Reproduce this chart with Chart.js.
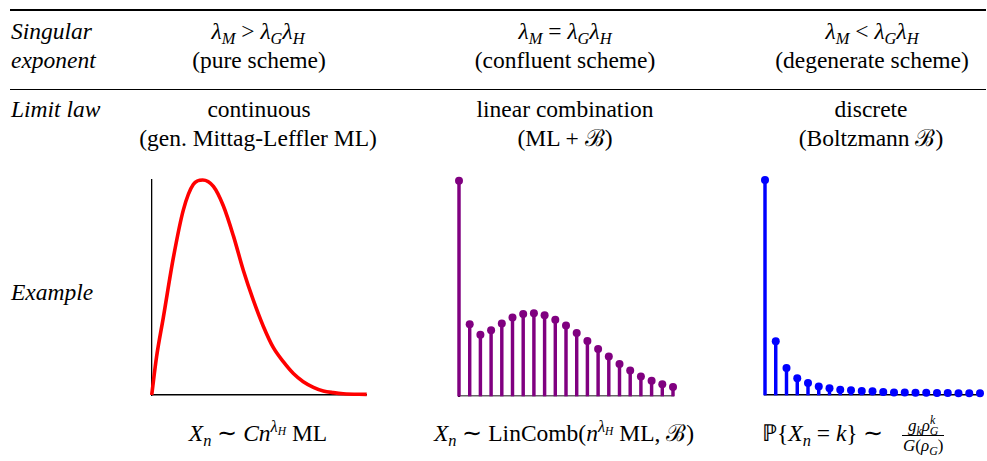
<!DOCTYPE html>
<html lang="en">
<head>
    <meta charset="UTF-8">
    <title>Limit laws of schemes</title>
    <script src="https://cdn.jsdelivr.net/npm/chart.js"></script>
    <style>
        body{margin:0;font-size:23.5px;}
        .t{position:absolute;line-height:1;white-space:nowrap;font-family:'Liberation Serif';}
        .c{width:300px;text-align:center;}
        .rule{position:absolute;left:10px;width:976px;background:#000;}
        sub,sup{font-size:0.7em;line-height:0;position:relative;vertical-align:baseline;}
        sub{top:0.3em;}
        sup{top:-0.55em;}
        .frac{text-align:center;font-size:17px;}
        .frac div{line-height:19px;padding:0 1px;}
        .frac .num{border-bottom:1px solid #000;}
        canvas{position:absolute;}
    </style>
</head>
<body>
    <div class="rule" style="top:9px;height:2px"></div>
    <div class="rule" style="top:89px;height:1.4px"></div>

    <div class="t" style="left:11px;top:20px;font-family:'Liberation Serif'"><i>Singular</i></div>
    <div class="t" style="left:11px;top:49px;font-family:'Liberation Serif'"><i>exponent</i></div>
    <div class="t c" style="left:108px;top:20px;font-family:'Liberation Serif'"><i>λ</i><sub><i>M</i></sub> &gt; <i>λ</i><sub><i>G</i></sub><i>λ</i><sub><i>H</i></sub></div>
    <div class="t c" style="left:109px;top:49px;font-family:'Liberation Serif'">(pure scheme)</div>
    <div class="t c" style="left:415px;top:20px;font-family:'Liberation Serif'"><i>λ</i><sub><i>M</i></sub> = <i>λ</i><sub><i>G</i></sub><i>λ</i><sub><i>H</i></sub></div>
    <div class="t c" style="left:415px;top:49px;font-family:'Liberation Serif'">(confluent scheme)</div>
    <div class="t c" style="left:722px;top:20px;font-family:'Liberation Serif'"><i>λ</i><sub><i>M</i></sub> &lt; <i>λ</i><sub><i>G</i></sub><i>λ</i><sub><i>H</i></sub></div>
    <div class="t c" style="left:722px;top:49px;font-family:'Liberation Serif'">(degenerate scheme)</div>

    <div class="t" style="left:11px;top:98px;font-family:'Liberation Serif'"><i>Limit law</i></div>
    <div class="t c" style="left:109px;top:98px;font-family:'Liberation Serif'">continuous</div>
    <div class="t c" style="left:108px;top:127px;font-family:'Liberation Serif'">(gen. Mittag-Leffler ML)</div>
    <div class="t c" style="left:415px;top:98px;font-family:'Liberation Serif'">linear combination</div>
    <div class="t c" style="left:415px;top:127px;font-family:'Liberation Serif'">(ML + ℬ)</div>
    <div class="t c" style="left:721px;top:98px;font-family:'Liberation Serif'">discrete</div>
    <div class="t c" style="left:721px;top:127px;font-family:'Liberation Serif'">(Boltzmann ℬ)</div>

    <div class="t" style="left:11px;top:281px;font-family:'Liberation Serif'"><i>Example</i></div>

    <div class="t c" style="left:108px;top:422px;font-family:'Liberation Serif'"><i>X</i><sub><i>n</i></sub> ∼ <i>Cn</i><sup><i>λ</i><sub><i>H</i></sub></sup> ML</div>
    <div class="t c" style="left:414px;top:422px;font-family:'Liberation Serif'"><i>X</i><sub><i>n</i></sub> ∼ LinComb(<i>n</i><sup><i>λ</i><sub><i>H</i></sub></sup> ML, ℬ)</div>
    <div class="t" style="left:762px;top:422px;font-family:'Liberation Serif'">ℙ{<i>X</i><sub><i>n</i></sub> = <i>k</i>} ∼</div>
    <div class="t frac" style="left:902px;top:416px;font-family:'Liberation Serif'">
        <div class="num"><i>g</i><sub><i>k</i></sub><i>ρ</i><sup><i>k</i></sup><sub style="margin-left:-0.45em"><i>G</i></sub></div>
        <div><i>G</i>(<i>ρ</i><sub><i>G</i></sub>)</div>
    </div>

    <canvas id="contChart" style="left:140px;top:170px" width="240" height="235"></canvas>
    <canvas id="confChart" style="left:446px;top:170px" width="240" height="236"></canvas>
    <canvas id="discChart" style="left:752px;top:170px" width="235" height="235"></canvas>

    <script>
        // continuous density (gen. Mittag-Leffler)
        const contX = [0, 2.3, 5.4, 10.1, 14.7, 19.4, 23.7, 28.7, 33.3, 38, 42.6, 47.3, 51.9, 56.6, 61.2, 65.9, 70.5, 75.2, 79.8, 84.5, 89.1, 100];
        const contY = [0, 18, 36, 64, 86, 98, 100, 97, 88, 74, 58, 44, 32, 22, 15.5, 10, 6.2, 3.6, 1.9, 1.1, 0.6, 0.3];

        // confluent scheme: ML + Boltzmann, purple stems
        const confK = [0, 1, 2, 3, 4, 5, 6, 7, 8, 9, 10, 11, 12, 13, 14, 15, 16, 17, 18, 19, 20];
        const confP = [100, 33.3, 28.5, 30.5, 33.7, 36.5, 38.1, 38.4, 37.5, 35.4, 32.7, 29.3, 25.5, 21.8, 18.3, 14.9, 11.8, 9.1, 7.1, 5.4, 4.2];

        // degenerate scheme: Boltzmann, blue stems
        const discK = [0, 1, 2, 3, 4, 5, 6, 7, 8, 9, 10, 11, 12, 13, 14, 15, 16, 17, 18, 19, 20];
        const discP = [100, 25, 12.6, 7.8, 5.6, 4.0, 3.1, 2.5, 2.2, 1.9, 1.7, 1.4, 1.2, 1.2, 1.1, 1.1, 0.9, 0.9, 0.8, 0.8, 0.8];

        function axes(xmin, xmax, xColor, yColor, yWidth){
            return {
                x:{type:'linear',min:xmin,max:xmax,offset:false,
                   ticks:{display:false},grid:{display:false,drawTicks:false},
                   border:{display:true,color:xColor,width:1.5}},
                y:{type:'linear',min:0,max:100,
                   ticks:{display:false},grid:{display:false,drawTicks:false},
                   border:{display:yWidth>0,color:yColor,width:yWidth||1}}
            };
        }
        const common = {responsive:false,animation:false,events:[],
            plugins:{legend:{display:false},tooltip:{enabled:false}}};

        new Chart(document.getElementById('contChart'), {
            type:'line',
            data:{datasets:[{
                data:contX.map((x,i)=>({x:x,y:contY[i]})),
                borderColor:'#ff0000',borderWidth:3.6,pointRadius:0,
                cubicInterpolationMode:'monotone',clip:false
            }]},
            options:Object.assign({},common,{
                layout:{padding:{left:11.7,top:10,right:13.3,bottom:10}},
                scales:axes(0,100,'#000','#000',1.3)
            })
        });

        function stems(id, ks, ps, color, pad, xColor, yColor, yWidth){
            new Chart(document.getElementById(id), {
                type:'bar',
                data:{datasets:[
                    {type:'line',data:ks.map((k,i)=>({x:k,y:ps[i]})),showLine:false,
                     pointRadius:4,pointBackgroundColor:color,pointBorderWidth:0,clip:false},
                    {type:'bar',data:ks.map((k,i)=>({x:k,y:ps[i]})),backgroundColor:color,
                     barThickness:2.8,clip:false}
                ]},
                options:Object.assign({},common,{
                    layout:{padding:pad},
                    scales:axes(0,20,xColor,yColor,yWidth)
                })
            });
        }
        stems('confChart', confK, confP, '#800080', {left:13,top:10.7,right:13,bottom:10}, '#666666', '#330033', 2);
        stems('discChart', discK, discP, '#0000ff', {left:13,top:10,right:7,bottom:10}, '#000000', '#0000ff', 0);
    </script>
</body>
</html>
